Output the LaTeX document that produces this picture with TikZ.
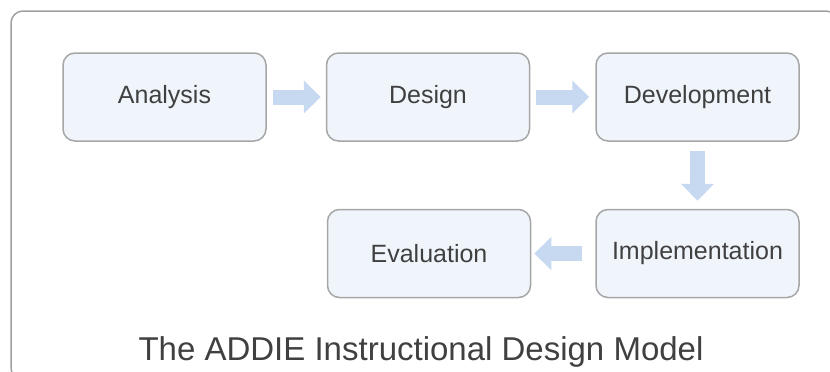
\documentclass[tikz,border=0pt]{standalone}
\usepackage{fontspec}
\setmainfont{Liberation Sans}
\usetikzlibrary{positioning,arrows.meta}
\definecolor{boxfill}{HTML}{F0F5FC}
\definecolor{boxline}{HTML}{A6A6A6}
\definecolor{framecol}{HTML}{A0A0A0}
\definecolor{arrowblue}{HTML}{C6D9F1}
\definecolor{textgray}{HTML}{404040}

\begin{document}
\begin{tikzpicture}
	[x=1pt, y=-1pt,
	% STYLES
	% The phase style is used to draw the five steps of the model
	phase/.style={rectangle, draw=boxline, line width=1.5pt, fill=boxfill, rounded corners=12pt, minimum width=203pt, minimum height=88pt, inner sep=0pt, text=textgray, font=\fontsize{25}{30}\selectfont},
	% The flow style is used to draw the wide blue arrows
	flow/.style={draw=arrowblue, line width=15pt, -{Triangle[width=32pt,length=17pt]}},
	% The caption style is used for the name of the model
	caption/.style={text=textgray, font=\fontsize{33}{40}\selectfont, anchor=base}]
	\useasboundingbox (0,0) rectangle (830,372);
	\clip (0,0) rectangle (830,372);
	% Outer frame
	\draw[framecol, line width=1.5pt, rounded corners=12pt] (11,11) rectangle (838,380);
	% Draw phases
	\node [phase] (analysis) at (164.5,97) {Analysis};
	\node [phase, right=59pt of analysis] (design) {Design};
	\node [phase, right=65pt of design] (development) {Development};
	\node [phase, below=67pt of development] (implementation) {Implementation};
	\node [phase, left=64pt of implementation] (evaluation) {Evaluation};
	% Name of the model
	\node [caption] (modelname) at (421,360) {The ADDIE Instructional Design Model};
	%%%%%%%%%%%%%%%%
	% Draw the arrows between phases
	\draw[flow, shorten <=6pt, shorten >=5pt] (analysis) -- (design);
	\draw[flow, shorten <=6pt, shorten >=6pt] (design) -- (development);
	\draw[flow, shorten <=9pt, shorten >=8pt] (development) -- (implementation);
	\draw[flow, shorten <=13pt, shorten >=3pt] (implementation) -- (evaluation);
\end{tikzpicture}
\end{document}
